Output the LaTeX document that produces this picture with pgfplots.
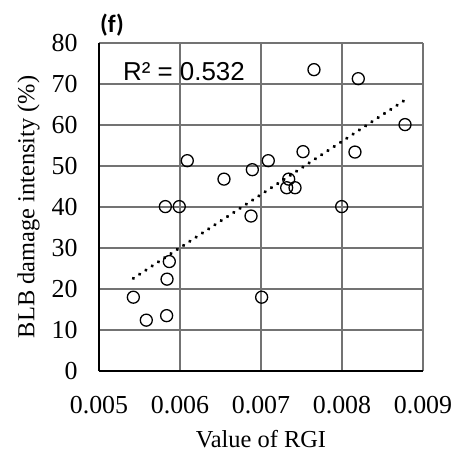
\documentclass[border=0pt]{standalone}
\usepackage{pgfplots}
\pgfplotsset{compat=1.18}
\usepackage{fontspec}
\setmainfont{Liberation Serif}
\newfontfamily\arial{Liberation Sans}
\newfontfamily\calibri{Carlito}
\begin{document}
\begin{tikzpicture}
\begin{axis}[
  scale only axis,
  width=324bp, height=328bp,
  xmin=0.005, xmax=0.009, ymin=0, ymax=80,
  xtick={0.005,0.006,0.007,0.008,0.009},
  xticklabels={0.005,0.006,0.007,0.008,0.009},
  ytick={0,10,20,30,40,50,60,70,80},
  yticklabels={0,10,20,30,40,50,60,70,80},
  scaled x ticks=false,
  major tick length=0pt,
  axis x line*=bottom, axis y line*=left,
  axis line style={-, black, line width=1.6bp},
  grid=major,
  major grid style={draw=black!55, line width=1.1bp},
  tick label style={font=\fontsize{26}{30}\selectfont},
  /pgf/number format/assume math mode=true,
  yticklabel style={anchor=east, xshift=-18bp},
  xticklabel style={anchor=north, yshift=-22bp},
  xlabel={Value of RGI},
  ylabel={BLB damage intensity (\%)},
  label style={font=\fontsize{24.5}{30}\selectfont},
  xlabel style={yshift=-9bp},
  ylabel shift=5bp,
  clip=false,
]
\addplot[only marks, mark=o, mark size=6bp, mark options={line width=1.3bp, draw=black}] coordinates {
(0.00609,51.3) (0.006543,46.8) (0.006893,49.1) (0.00709,51.3)
(0.005819,40.1) (0.005991,40.1) (0.006877,37.8)
(0.007654,73.5) (0.008201,71.3) (0.008778,60.1) (0.008160,53.4)
(0.007519,53.5) (0.007342,46.8) (0.007317,44.7) (0.00742,44.7)
(0.007996,40.1)
(0.005868,26.7) (0.005840,22.4) (0.005424,18.0) (0.005584,12.4)
(0.005835,13.5) (0.007008,18.0)
};
\addplot[black, line width=3.6bp, line cap=round, dash pattern=on 0.01bp off 7.5bp] coordinates {(0.005424,22.6) (0.008786,66.2)};
\node[font=\arial\fontsize{26}{30}\selectfont] at (axis cs:0.006049,73.0) {R² = 0.532};
\end{axis}
\node[font=\calibri\fontsize{25}{30}\selectfont\bfseries] at ([xshift=13bp,yshift=18bp]current axis.north west) {(f)};
\path ([xshift=-99bp,yshift=-85bp]current axis.south west) rectangle ++(459bp,456bp);
\end{tikzpicture}
\end{document}
